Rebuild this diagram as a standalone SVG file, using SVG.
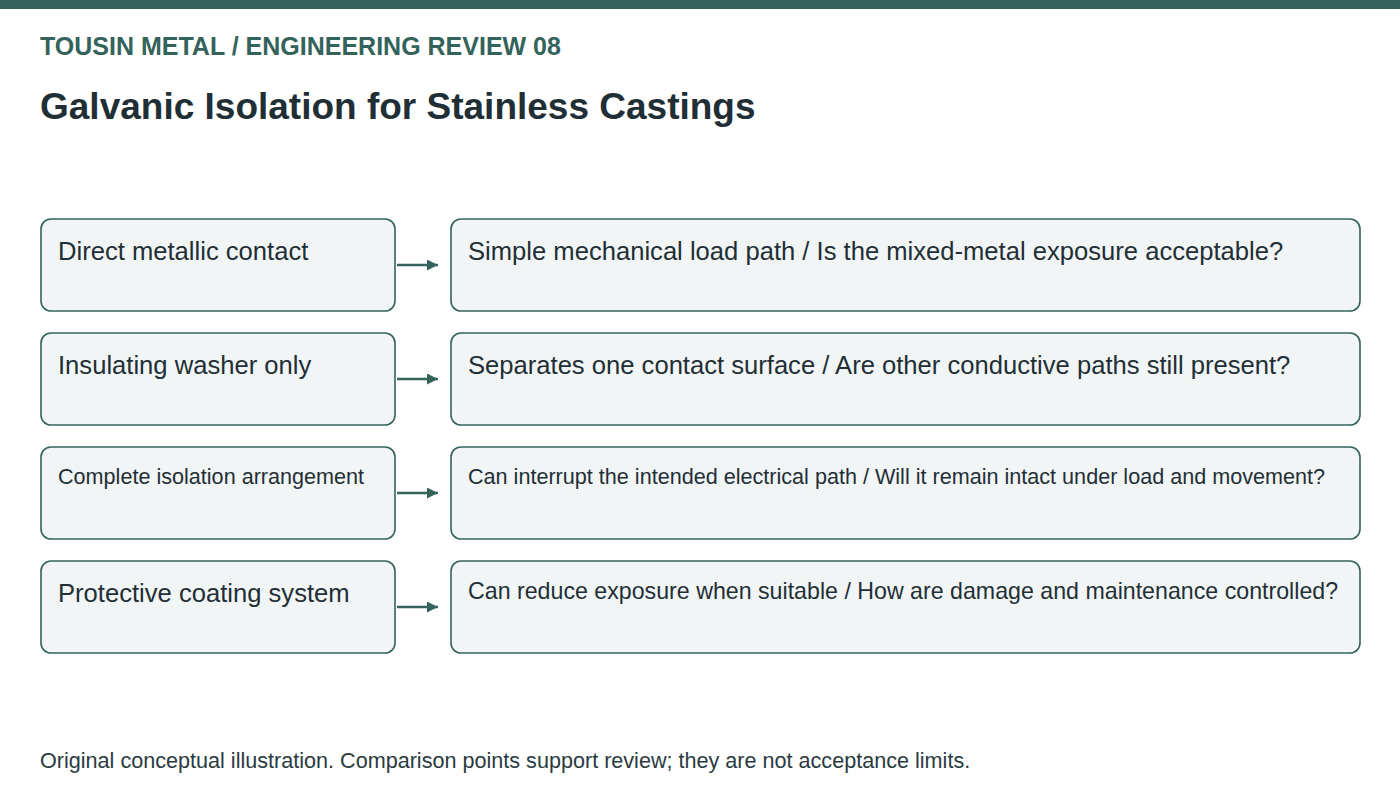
<svg xmlns="http://www.w3.org/2000/svg" width="1400" height="800" viewBox="0 0 1400 800">
<defs>
<style>
.box{fill:#f1f5f5;stroke:#34635c;stroke-width:1.6}
.t{font-family:"Liberation Sans",Arial,sans-serif;fill:#1f2f35}
.big{font-size:25.6px}
.small{font-size:21.6px}
.conn{stroke:#34635c;stroke-width:2.5;fill:none}
</style>
<marker id="ah" viewBox="0 0 10 10" refX="10" refY="5" markerWidth="12" markerHeight="11" orient="auto" markerUnits="userSpaceOnUse">
<path d="M0,0 L10,5 L0,10 z" fill="#34635c"/>
</marker>
</defs>
<rect x="0" y="0" width="1400" height="800" fill="#ffffff"/>
<rect x="0" y="0" width="1400" height="9" fill="#34635c"/>
<text class="t" x="40" y="55" font-size="25" font-weight="bold" style="fill:#34635c">TOUSIN METAL / ENGINEERING REVIEW 08</text>
<text class="t" x="40" y="119" font-size="37" font-weight="bold">Galvanic Isolation for Stainless Castings</text>

<g id="n1l"><rect class="box" x="41" y="219" width="354" height="92" rx="10"/><text class="t big" x="58" y="260">Direct metallic contact</text></g>
<g id="n1r"><rect class="box" x="451" y="219" width="909" height="92" rx="10"/><text class="t big" x="468" y="260">Simple mechanical load path / Is the mixed-metal exposure acceptable?</text></g>
<g id="n2l"><rect class="box" x="41" y="333" width="354" height="92" rx="10"/><text class="t big" x="58" y="374">Insulating washer only</text></g>
<g id="n2r"><rect class="box" x="451" y="333" width="909" height="92" rx="10"/><text class="t big" x="468" y="374">Separates one contact surface / Are other conductive paths still present?</text></g>
<g id="n3l"><rect class="box" x="41" y="447" width="354" height="92" rx="10"/><text class="t small" x="58" y="484">Complete isolation arrangement</text></g>
<g id="n3r"><rect class="box" x="451" y="447" width="909" height="92" rx="10"/><text class="t small" x="468" y="484">Can interrupt the intended electrical path / Will it remain intact under load and movement?</text></g>
<g id="n4l"><rect class="box" x="41" y="561" width="354" height="92" rx="10"/><text class="t big" x="58" y="602">Protective coating system</text></g>
<g id="n4r"><rect class="box" x="451" y="561" width="909" height="92" rx="10"/><text class="t" x="468" y="599" font-size="23.2">Can reduce exposure when suitable / How are damage and maintenance controlled?</text></g>

<g id="connectors">
<line class="conn" x1="397" y1="265" x2="438" y2="265" marker-end="url(#ah)"/>
<line class="conn" x1="397" y1="379" x2="438" y2="379" marker-end="url(#ah)"/>
<line class="conn" x1="397" y1="493" x2="438" y2="493" marker-end="url(#ah)"/>
<line class="conn" x1="397" y1="607" x2="438" y2="607" marker-end="url(#ah)"/>
</g>

<text class="t small" x="40" y="768" style="fill:#2a3a3f">Original conceptual illustration. Comparison points support review; they are not acceptance limits.</text>
</svg>
